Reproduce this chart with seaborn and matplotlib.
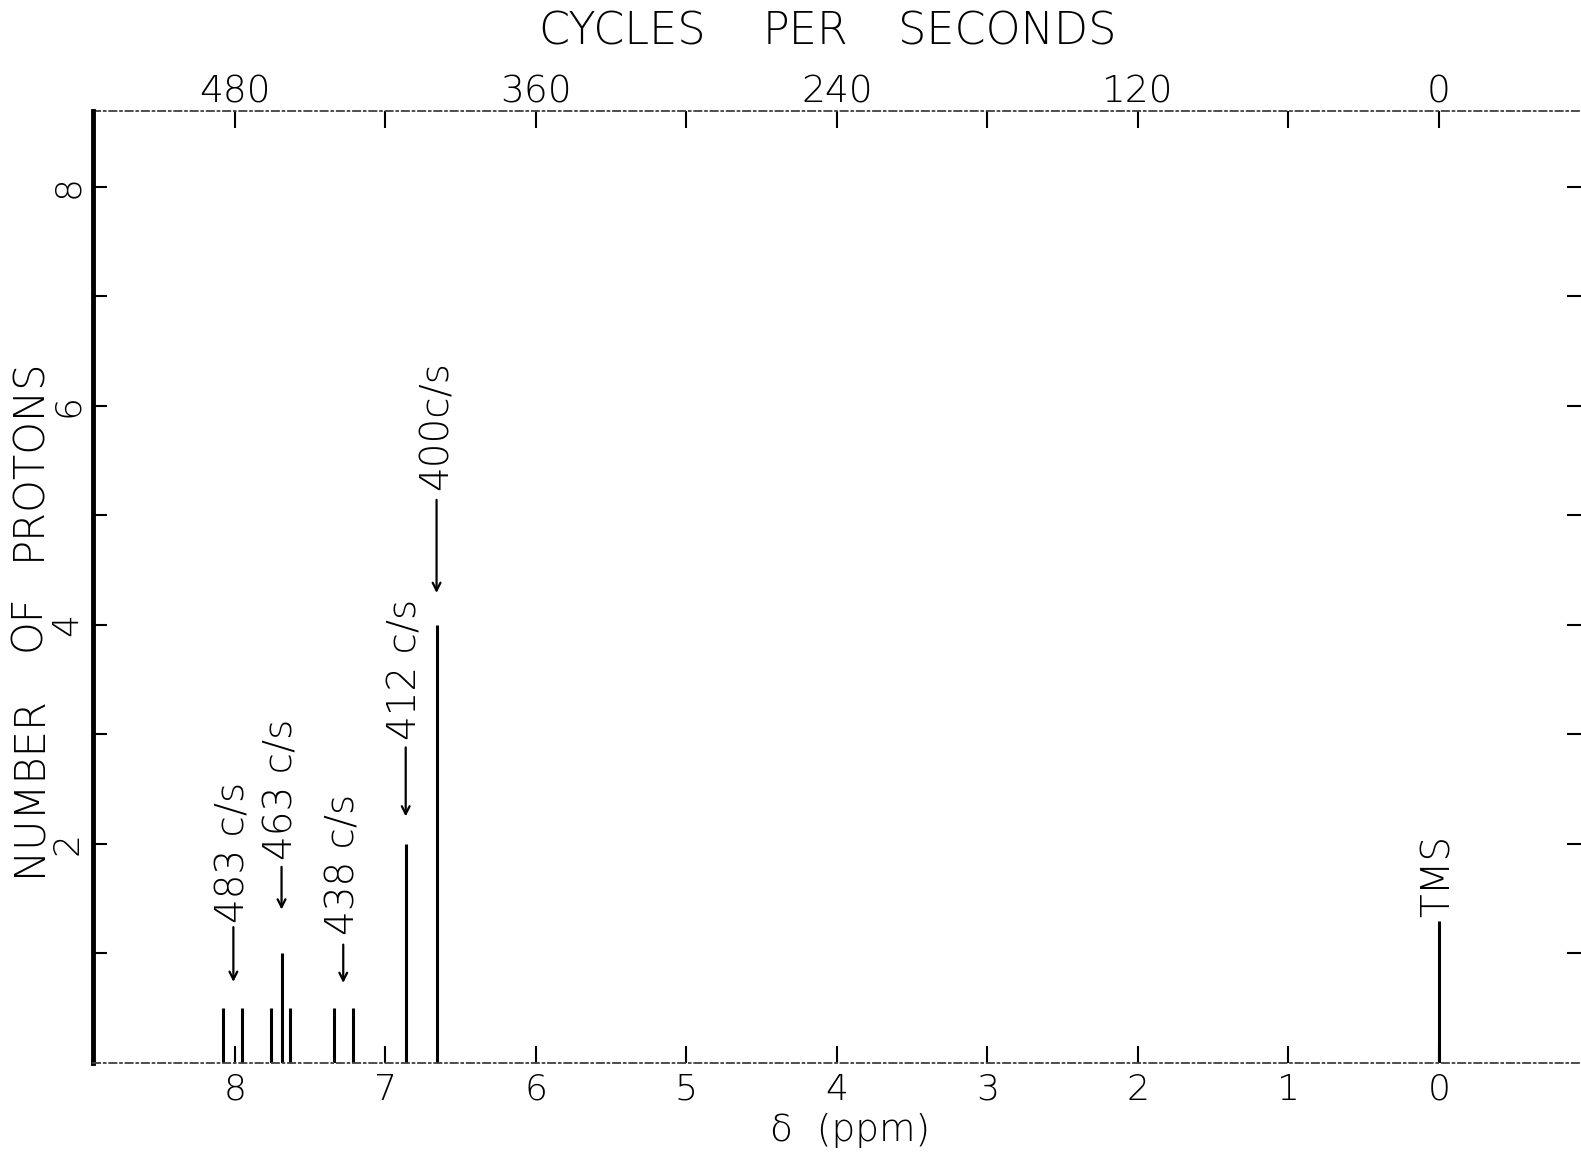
import matplotlib
matplotlib.use("Agg")
import matplotlib.pyplot as plt
import seaborn as sns
import numpy as np
import pandas as pd

# ---- data ----
peak_ppm = [8.08, 7.95, 7.76, 7.69, 7.635, 7.34, 7.215, 6.865, 6.66, 0.0]
peak_height = [0.5, 0.5, 0.5, 1.0, 0.5, 0.5, 0.5, 2.0, 4.0, 1.3]

ann_labels = ["483 c/s", "463 c/s", "438 c/s", "412 c/s", "400c/s"]
ann_x = [8.01, 7.69, 7.28, 6.865, 6.66]
ann_arrow_tail = [1.24, 1.79, 1.08, 2.88, 5.14]
ann_arrow_head = [0.74, 1.40, 0.73, 2.25, 4.29]
ann_text_base = [1.28, 1.85, 1.17, 2.95, 5.23]

tms_label = "TMS"
tms_x = 0.0
tms_text_base = 1.33

ppm_ticks = [8, 7, 6, 5, 4, 3, 2, 1, 0]
cps_major = [480, 360, 240, 120, 0]
cps_minor = [420, 300, 180, 60]
y_major = [2, 4, 6, 8]
y_minor = [1, 3, 5, 7]

df = pd.DataFrame({"ppm": peak_ppm, "height": peak_height})

# ---- style ----
sns.set_theme(style="ticks")
plt.rcParams["font.family"] = ["DejaVu Sans"]
plt.rcParams["font.weight"] = "light"

fig = plt.figure(figsize=(15.81, 11.52), dpi=100)
ax = fig.add_axes([0.0588, 0.0773, 0.9412, 0.8264])

ax.vlines(df["ppm"], 0, df["height"], color="black", lw=2.2)

for lab, x, t, h, b in zip(ann_labels, ann_x, ann_arrow_tail, ann_arrow_head, ann_text_base):
    ax.annotate("", xy=(x, h), xytext=(x, t),
                arrowprops=dict(arrowstyle="->", lw=1.6, color="black",
                                mutation_scale=14, shrinkA=0, shrinkB=0))
    ax.text(x, b, lab, rotation=90, ha="center", va="bottom", fontsize=28, color="black")

ax.text(tms_x, tms_text_base, tms_label, rotation=90, ha="center", va="bottom",
        fontsize=28, color="black")

ax.set_xlim(8.943, -0.944)
ax.set_ylim(0, 8.69)

ax.set_xticks(ppm_ticks)
ax.set_xticklabels([str(t) for t in ppm_ticks])
ax.set_yticks(y_major)
ax.set_yticklabels([str(t) for t in y_major])
ax.set_yticks(y_minor, minor=True)

ax.tick_params(axis="x", which="major", direction="in", length=12, width=1.5,
               pad=7, labelsize=26, colors="black", top=False)
ax.tick_params(axis="y", which="major", direction="in", length=10, width=1.5,
               pad=6, labelsize=26, labelrotation=90, colors="black",
               right=True, labelright=False)
ax.tick_params(axis="y", which="minor", direction="in", length=10, width=1.5,
               right=True, colors="black")
for lab in ax.get_yticklabels():
    lab.set_va("center")

# spines
ax.spines["left"].set_linewidth(3.5)
ax.spines["left"].set_color("black")
ax.spines["right"].set_visible(False)
ax.spines["top"].set_visible(False)
ax.spines["bottom"].set_color("0.25")
ax.spines["bottom"].set_linewidth(1.3)
ax.spines["bottom"].set_linestyle((0, (4, 2, 1, 2)))

# top axis: cycles per second (60 Mc/s)
sec = ax.secondary_xaxis("top", functions=(lambda p: p * 60.0, lambda c: c / 60.0))
sec.set_xticks(cps_major)
sec.set_xticklabels([str(c) for c in cps_major])
sec.set_xticks(cps_minor, minor=True)
sec.tick_params(axis="x", which="both", direction="in", length=12, width=1.5,
                pad=1, labelsize=27, colors="black")
sec.spines["top"].set_color("0.25")
sec.spines["top"].set_linewidth(1.3)
sec.spines["top"].set_linestyle((0, (4, 2, 1, 2)))

# axis titles
for word, xc in zip(["CYCLES", "PER", "SECONDS"], [622, 806, 1007]):
    fig.text(xc / 1581, 1 - 32 / 1152, word, ha="center", va="center", fontsize=32, color="black")
for word, yc in zip(["NUMBER", "OF", "PROTONS"], [786, 623, 459]):
    fig.text(28 / 1581, 1 - yc / 1152, word, ha="center", va="center", rotation=90,
             fontsize=30, color="black")
fig.text(850 / 1581, 1 - 1131 / 1152, "δ  (ppm)", ha="center", va="center", fontsize=27,
         color="black")

fig.savefig("out.png", dpi=100, facecolor="white")
